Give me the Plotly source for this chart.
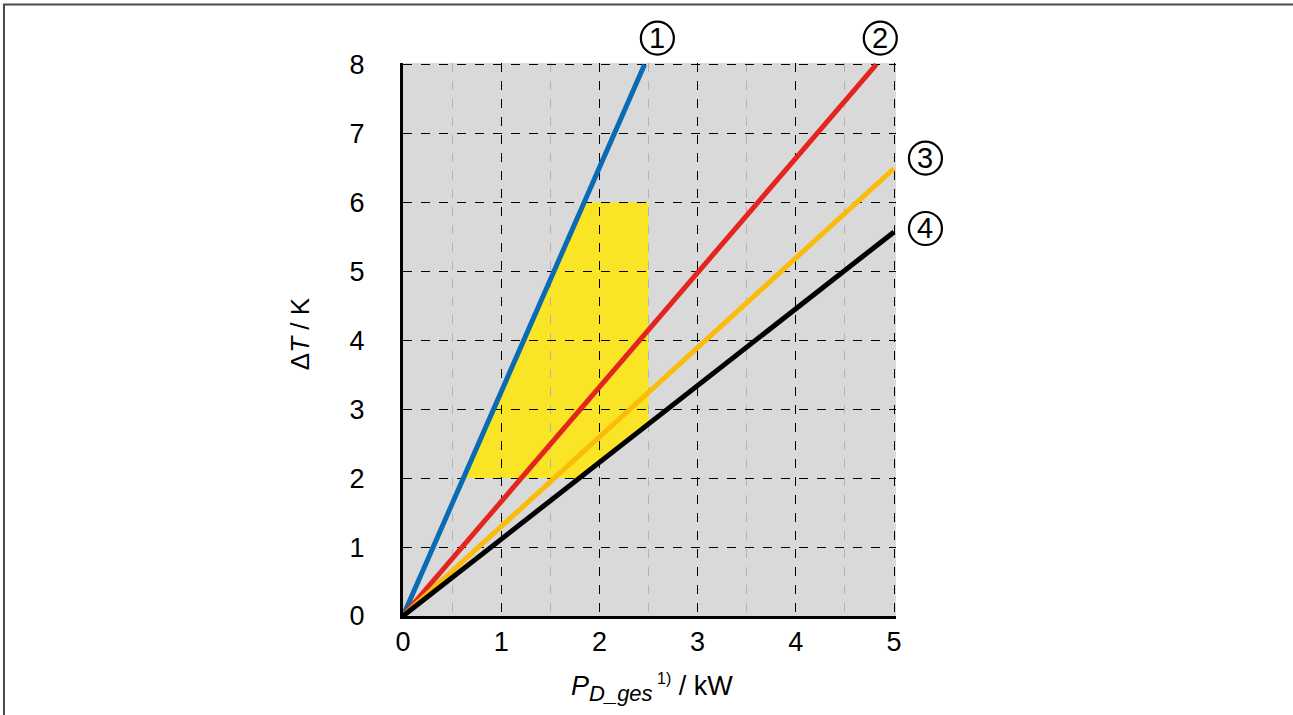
import plotly.graph_objects as go

# ---- data ----
curve_labels = ["1", "2", "3", "4"]
curve_colors = ["#0a6ab4", "#e32520", "#fbbb09", "#000000"]
x_end = [2.46, 4.82, 5.0, 5.0]
y_end = [8.0, 8.0, 6.49, 5.57]
label_x = [2.59, 4.86, 5.32, 5.32]
label_y = [8.38, 8.38, 6.64, 5.62]

region_x_max = 2.5
region_y_min = 2.0
region_y_max = 6.0

x_ticks = [0, 1, 2, 3, 4, 5]
y_ticks = [0, 1, 2, 3, 4, 5, 6, 7, 8]

W, H = 1293, 715
X0PX, X1PX, Y0PX, Y1PX = 403, 894, 616, 64   # pixel positions of x=0, x=5, y=0, y=8
XR = [0, 5.02]
YR = [0, 8.02]
ppx = (X1PX - X0PX) / 5.0
ppy = (Y0PX - Y1PX) / 8.0
L = X0PX
R = W - (X0PX + XR[1] * ppx)
B = H - Y0PX
T = Y0PX - YR[1] * ppy
PW = W - L - R
PH = H - T - B


def px2paper(px, py):
    return (px - L) / PW, (H - B - py) / PH


def data2paper(x, y):
    return (x - XR[0]) / (XR[1] - XR[0]), (y - YR[0]) / (YR[1] - YR[0])


fig = go.Figure()

for xe, ye, c in zip(x_end, y_end, curve_colors):
    fig.add_trace(go.Scatter(x=[0, xe], y=[0, ye], mode="lines",
                             line=dict(color=c, width=5), showlegend=False,
                             hoverinfo="skip", cliponaxis=False))

# yellow operating region bounded by curve 1 (left) and curve 4 (bottom)
s1 = y_end[0] / x_end[0]
s4 = y_end[3] / x_end[3]
pts = [
    (region_y_min / s1, region_y_min),
    (region_y_min / s4, region_y_min),
    (region_x_max, region_x_max * s4),
    (region_x_max, region_y_max),
    (region_y_max / s1, region_y_max),
]
path = "M " + " L ".join(f"{px},{py}" for px, py in pts) + " Z"
fig.add_shape(type="path", path=path, xref="x", yref="y",
              fillcolor="#f9e526", line=dict(width=0), layer="below")

# circled curve numbers (outside the axes range -> placed in paper coordinates)
for lab, lx, ly in zip(curve_labels, label_x, label_y):
    px_, py_ = data2paper(lx, ly)
    fig.add_shape(type="circle", xref="paper", yref="paper", xsizemode="pixel", ysizemode="pixel",
                  xanchor=px_, yanchor=py_, x0=-16.5, x1=16.5, y0=-16.5, y1=16.5,
                  line=dict(color="black", width=2.2), fillcolor="rgba(0,0,0,0)")
    fig.add_annotation(x=px_, y=py_, xref="paper", yref="paper", text=lab, showarrow=False,
                       xanchor="center", yanchor="middle",
                       font=dict(size=29, color="black", family="Liberation Sans"))

# axis titles
ax, ay = px2paper(300, 333)
fig.add_annotation(x=ax, y=ay, xref="paper", yref="paper", xanchor="center", yanchor="middle",
                   text="Δ<i>T</i> / K", textangle=-90, showarrow=False,
                   font=dict(size=26, color="black", family="Liberation Sans"))
bx, by = px2paper(652, 688)
fig.add_annotation(x=bx, y=by, xref="paper", yref="paper", xanchor="center", yanchor="middle",
                   text=("<i>P<sub><span style='font-size:22px'>D_ges</span></sub></i>"
                         "<sup><span style='font-size:16px'> 1)</span></sup> / kW"),
                   showarrow=False,
                   font=dict(size=27, color="black", family="Liberation Sans"))

# outer frame
fx0, fy1 = px2paper(4, 4)
fx1, fy0 = px2paper(1330, 760)
fig.add_shape(type="rect", xref="paper", yref="paper", x0=fx0, x1=fx1, y0=fy0, y1=fy1,
              line=dict(color="#4a4a4a", width=2), fillcolor="rgba(0,0,0,0)", layer="above")

fig.update_layout(
    width=W, height=H,
    margin=dict(l=L, r=R, t=T, b=B, pad=0),
    paper_bgcolor="white", plot_bgcolor="#d9d9d9",
    font=dict(family="Liberation Sans", color="black"),
    xaxis=dict(range=XR, tickvals=x_ticks, ticktext=[str(v) for v in x_ticks],
               showgrid=True, gridcolor="black", griddash="dash", gridwidth=1,
               minor=dict(dtick=0.5, showgrid=True, gridcolor="#b3b3b3", griddash="dash", gridwidth=1),
               zeroline=False, showline=True, linecolor="black", linewidth=3,
               ticks="", tickfont=dict(size=27), ticklabelstandoff=0, fixedrange=True),
    yaxis=dict(range=YR, tickvals=y_ticks, ticktext=[str(v) for v in y_ticks],
               showgrid=True, gridcolor="black", griddash="dash", gridwidth=1,
               zeroline=False, showline=True, linecolor="black", linewidth=3,
               ticks="", tickfont=dict(size=27), ticklabelstandoff=30, fixedrange=True),
)

fig.write_html("out.html", config={"displayModeBar": False},
               post_script="document.body.style.margin='0';")
